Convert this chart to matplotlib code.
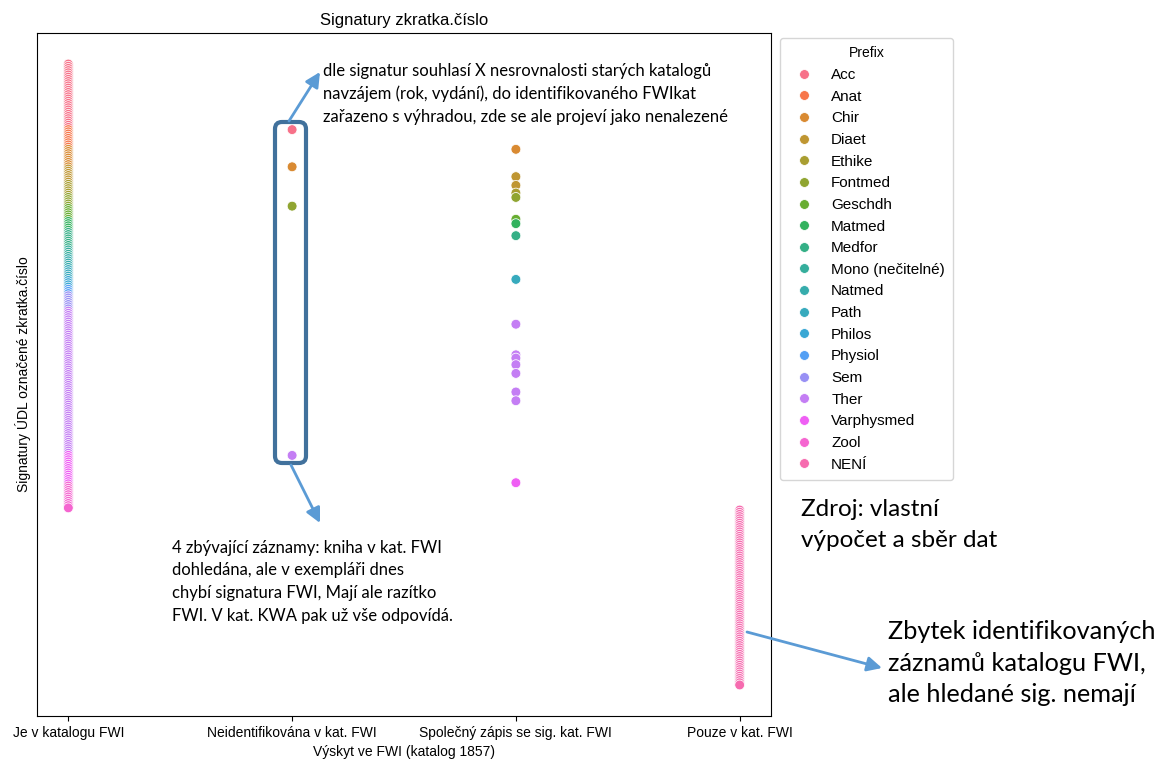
import matplotlib
matplotlib.use("Agg")
import matplotlib.pyplot as plt
from matplotlib.patches import FancyBboxPatch
from matplotlib.text import Annotation
from matplotlib.transforms import IdentityTransform
import pandas as pd
import seaborn as sns

plt.rcParams["font.family"] = ["Liberation Sans", "DejaVu Sans"]
plt.rcParams["font.size"] = 10

# categories on x
OCCURRENCE = ["Je v katalogu FWI", "Neidentifikována v kat. FWI",
              "Společný zápis se sig. kat. FWI", "Pouze v kat. FWI"]

PREFIXES = ["Acc", "Anat", "Chir", "Diaet", "Ethike", "Fontmed", "Geschdh",
            "Matmed", "Medfor", "Mono (nečitelné)", "Natmed", "Path", "Philos",
            "Physiol", "Sem", "Ther", "Varphysmed", "Zool", "NENÍ"]

# number of signatures per prefix found in the FWI catalogue (sorted order)
je_counts = [30, 9, 9, 7, 6, 5, 6, 5, 8, 4, 5, 5, 4, 3, 7, 66, 14, 11, 0]

# signatures not identified in FWI (rank in sorted list, prefix)
neident_rank = [30, 47, 65, 179]
neident_prefix = ["Acc", "Chir", "Fontmed", "Ther"]

# joint records with FWI signature
spol_rank = [39, 51.5, 55.5, 59, 61, 71, 73, 78.5, 98.5, 119, 133, 134.5,
             137.5, 141.5, 150, 154, 191.5]
spol_prefix = ["Chir", "Diaet", "Diaet", "Ethike", "Fontmed", "Geschdh",
               "Matmed", "Medfor", "Path", "Ther", "Ther", "Ther", "Ther",
               "Ther", "Ther", "Ther", "Varphysmed"]

# records only in FWI catalogue (no signature)
pouze_count = 81

rows = []
rank = 0
for prefix, n in zip(PREFIXES, je_counts):
    for _ in range(n):
        rows.append((0, rank, prefix))
        rank += 1
for r, p in zip(neident_rank, neident_prefix):
    rows.append((1, r, p))
for r, p in zip(spol_rank, spol_prefix):
    rows.append((2, r, p))
for i in range(pouze_count):
    rows.append((3, rank + i, "NENÍ"))
last_rank = rank + pouze_count - 1

df = pd.DataFrame(rows, columns=["vyskyt", "signatura", "Prefix"])

fig = plt.figure(figsize=(11.63, 7.6), dpi=100)
ax = fig.add_axes([37 / 1163, 44 / 760, 734 / 1163, 683 / 760])

sns.scatterplot(data=df, x="vyskyt", y="signatura", hue="Prefix",
                hue_order=PREFIXES, s=50, ax=ax)

ax.set_xlim(-0.14, 3.14)
pad = last_rank * 0.05
ax.set_ylim(last_rank + pad, -pad)
ax.set_xticks(range(len(OCCURRENCE)))
ax.set_xticklabels(OCCURRENCE)
ax.set_yticks([])
ax.set_xlabel("Výskyt ve FWI (katalog 1857)")
ax.set_ylabel("Signatury ÚDL označené zkratka.číslo")
ax.set_title("Signatury zkratka.číslo", fontsize=12)

leg = ax.legend(title="Prefix", loc="upper left", fontsize=11,
                labelspacing=0.5, borderpad=0.55,
                bbox_to_anchor=(780 / 1163, 1 - 38 / 760),
                bbox_transform=fig.transFigure, borderaxespad=0)
leg.get_title().set_fontsize(10)

# rounded box around the "Neidentifikována" column (pixel coordinates)
box = FancyBboxPatch((275, 760 - 463), 31, 341,
                     boxstyle="round,pad=0,rounding_size=7",
                     transform=IdentityTransform(), fill=False,
                     edgecolor="#41719c", linewidth=3, clip_on=False)
fig.add_artist(box)

note_font = ["Lato", "DejaVu Sans"]
arrow_kw = dict(arrowstyle="-|>", color="#5b9bd5", lw=2, mutation_scale=22,
                shrinkA=0, shrinkB=0)


def fp(x, y):
    # top-left pixel -> figure fraction
    return (x / 1163, 1 - y / 760)


fig.text(*fp(323, 63),
         "dle signatur souhlasí X nesrovnalosti starých katalogů\n"
         "navzájem (rok, vydání), do identifikovaného FWIkat\n"
         "zařazeno s výhradou, zde se ale projeví jako nenalezené",
         family=note_font, fontsize=12, va="top", linespacing=1.5)

fig.text(*fp(172, 540),
         "4 zbývající záznamy: kniha v kat. FWI\n"
         "dohledána, ale v exempláři dnes\n"
         "chybí signatura FWI, Mají ale razítko\n"
         "FWI. V kat. KWA pak už vše odpovídá.",
         family=note_font, fontsize=12, va="top", linespacing=1.5)

fig.text(*fp(801, 499), "Zdroj: vlastní\nvýpočet a sběr dat",
         family=note_font, fontsize=17.5, va="top", linespacing=1.6)

fig.text(*fp(888, 620),
         "Zbytek identifikovaných\nzáznamů katalogu FWI,\nale hledané sig. nemají",
         family=note_font, fontsize=18.2, va="top", linespacing=1.45)

for tail, head in [((289, 121), (320, 72)),
                   ((291, 465), (320, 523)),
                   ((747, 632), (882, 668))]:
    fig.add_artist(Annotation("", xy=fp(*head), xytext=fp(*tail),
                              xycoords="figure fraction",
                              textcoords="figure fraction",
                              arrowprops=arrow_kw))

fig.savefig("out.png", dpi=100)
